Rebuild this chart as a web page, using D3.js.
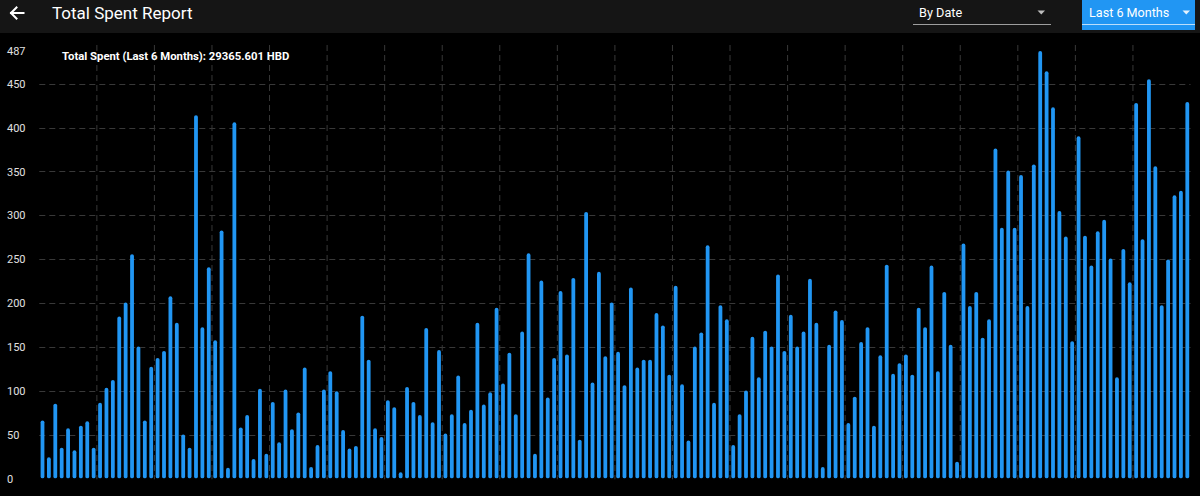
<!DOCTYPE html>
<html>
<head>
<meta charset="utf-8">
<script src="https://cdn.jsdelivr.net/npm/d3@7"></script>
<style>
  html, body { margin: 0; padding: 0; background: #000; overflow: hidden; }
  svg { display: block; font-family: Roboto, "Noto Sans", sans-serif; }
</style>
</head>
<body>
<svg id="chart" width="1200" height="496"></svg>
<script>
// ---- data ----
const titleText = "Total Spent Report";
const totalLabel = "Total Spent (Last 6 Months): 29365.601 HBD";
const groupByLabel = "By Date";
const rangeLabel = "Last 6 Months";
const yTicks = [0, 50, 100, 150, 200, 250, 300, 350, 400, 450, 487];
const yMax = 487;
const dailySpent = [
  67, 25, 86, 36, 58, 33, 61, 66, 36, 87,
  104, 113, 185, 201, 256, 151, 67, 128, 138, 146,
  208, 178, 51, 36, 414, 173, 241, 158, 283, 13,
  406, 59, 73, 23, 103, 29, 88, 42, 102, 57,
  76, 127, 14, 39, 102, 123, 100, 56, 35, 38,
  186, 136, 58, 48, 90, 82, 8, 105, 88, 73,
  172, 65, 147, 52, 74, 118, 64, 79, 178, 85,
  99, 195, 109, 144, 74, 168, 257, 29, 226, 93,
  138, 214, 142, 229, 45, 304, 110, 236, 140, 201,
  145, 107, 218, 127, 136, 136, 189, 175, 119, 220,
  108, 44, 151, 167, 266, 87, 198, 182, 39, 74,
  101, 162, 116, 169, 151, 233, 146, 187, 151, 168,
  228, 178, 14, 153, 192, 181, 64, 94, 156, 173,
  61, 141, 244, 120, 132, 142, 119, 195, 173, 243,
  123, 213, 153, 20, 268, 197, 213, 161, 182, 376,
  286, 351, 286, 346, 197, 358, 487, 464, 423, 305,
  276, 157, 390, 277, 243, 282, 295, 251, 116, 262,
  224, 428, 273, 455, 356, 198, 250, 323, 328, 429
];
const dayIndex = d3.range(dailySpent.length);

// ---- layout ----
const svg = d3.select("#chart");
const W = 1200, H = 496;
const plot = { left: 39.3, right: 1190.5, top: 51, bottom: 479.3 };
const barColor = "#2196F3";
const gridColor = "#383838";

svg.append("rect").attr("width", W).attr("height", H).attr("fill", "#000");

// header
svg.append("rect").attr("x", 0).attr("y", 0).attr("width", W).attr("height", 33).attr("fill", "#151515");
svg.append("path")
  .attr("d", "M11,13 L23.5,13 M11,13 L16.5,7.5 M11,13 L16.5,18.5")
  .attr("stroke", "#fff").attr("stroke-width", 2).attr("fill", "none")
  .attr("stroke-linecap", "square");
svg.append("text").attr("x", 52).attr("y", 19)
  .attr("fill", "#fff").attr("font-size", 17).text(titleText);

// By Date dropdown
svg.append("text").attr("x", 919).attr("y", 16.5)
  .attr("fill", "#fff").attr("font-size", 12.7).text(groupByLabel);
svg.append("line").attr("x1", 913).attr("x2", 1051).attr("y1", 24.5).attr("y2", 24.5)
  .attr("stroke", "#9e9e9e").attr("stroke-width", 1);
svg.append("path").attr("d", "M1037.5,10.5 L1045,10.5 L1041.25,14.5 Z").attr("fill", "#bdbdbd");

// Range dropdown (blue)
svg.append("rect").attr("x", 1082).attr("y", 0).attr("width", 113).attr("height", 30).attr("fill", barColor);
svg.append("text").attr("x", 1089).attr("y", 16.5)
  .attr("fill", "#fff").attr("font-size", 12.6).text(rangeLabel);
svg.append("line").attr("x1", 1082).attr("x2", 1195).attr("y1", 24.5).attr("y2", 24.5)
  .attr("stroke", "#bbdefb").attr("stroke-width", 1);
svg.append("path").attr("d", "M1182.5,10.5 L1190,10.5 L1186.25,14.5 Z").attr("fill", "#e3f2fd");

// scales
const x = d3.scaleBand().domain(dayIndex).range([plot.left, plot.right]).paddingInner(0).paddingOuter(0);
const y = d3.scaleLinear().domain([0, yMax]).range([plot.bottom, plot.top]);

// horizontal grid
const g = svg.append("g");
g.selectAll("line.hgrid").data(yTicks.filter(t => t > 0 && t < yMax)).join("line")
  .attr("class", "hgrid")
  .attr("x1", plot.left).attr("x2", plot.right)
  .attr("y1", d => Math.round(y(d)) + 0.5).attr("y2", d => Math.round(y(d)) + 0.5)
  .attr("stroke", gridColor).attr("stroke-width", 1).attr("stroke-dasharray", "6,4");

// vertical grid every 9 days
const vIdx = dayIndex.filter(i => i > 0 && i % 9 === 0);
g.selectAll("line.vgrid").data(vIdx).join("line")
  .attr("class", "vgrid")
  .attr("x1", d => x(d)).attr("x2", d => x(d))
  .attr("y1", plot.top - 6).attr("y2", plot.bottom)
  .attr("stroke", gridColor).attr("stroke-width", 1).attr("stroke-dasharray", "6,4");

// y axis labels
const yAxis = d3.axisLeft(y).tickValues(yTicks).tickSize(0).tickPadding(0);
const ya = svg.append("g").attr("transform", "translate(7,0)").call(yAxis);
ya.select(".domain").remove();
ya.selectAll("text").attr("text-anchor", "start").attr("x", 0)
  .attr("fill", "#e0e0e0").attr("font-size", 11).attr("font-family", "Roboto, sans-serif");

// bars
const bw = 3.8;
svg.append("g").selectAll("rect").data(dailySpent).join("rect")
  .attr("x", (d, i) => x(i) + x.bandwidth() / 2 - bw / 2)
  .attr("width", bw)
  .attr("y", d => y(d))
  .attr("height", d => Math.max(0, y(0) - 1 - y(d)))
  .attr("rx", bw / 2).attr("ry", bw / 2)
  .attr("fill", barColor);

// total label
svg.append("text").attr("x", 62).attr("y", 60)
  .attr("fill", "#fff").attr("font-size", 11.3).attr("font-weight", "bold").text(totalLabel);
</script>
</body>
</html>
